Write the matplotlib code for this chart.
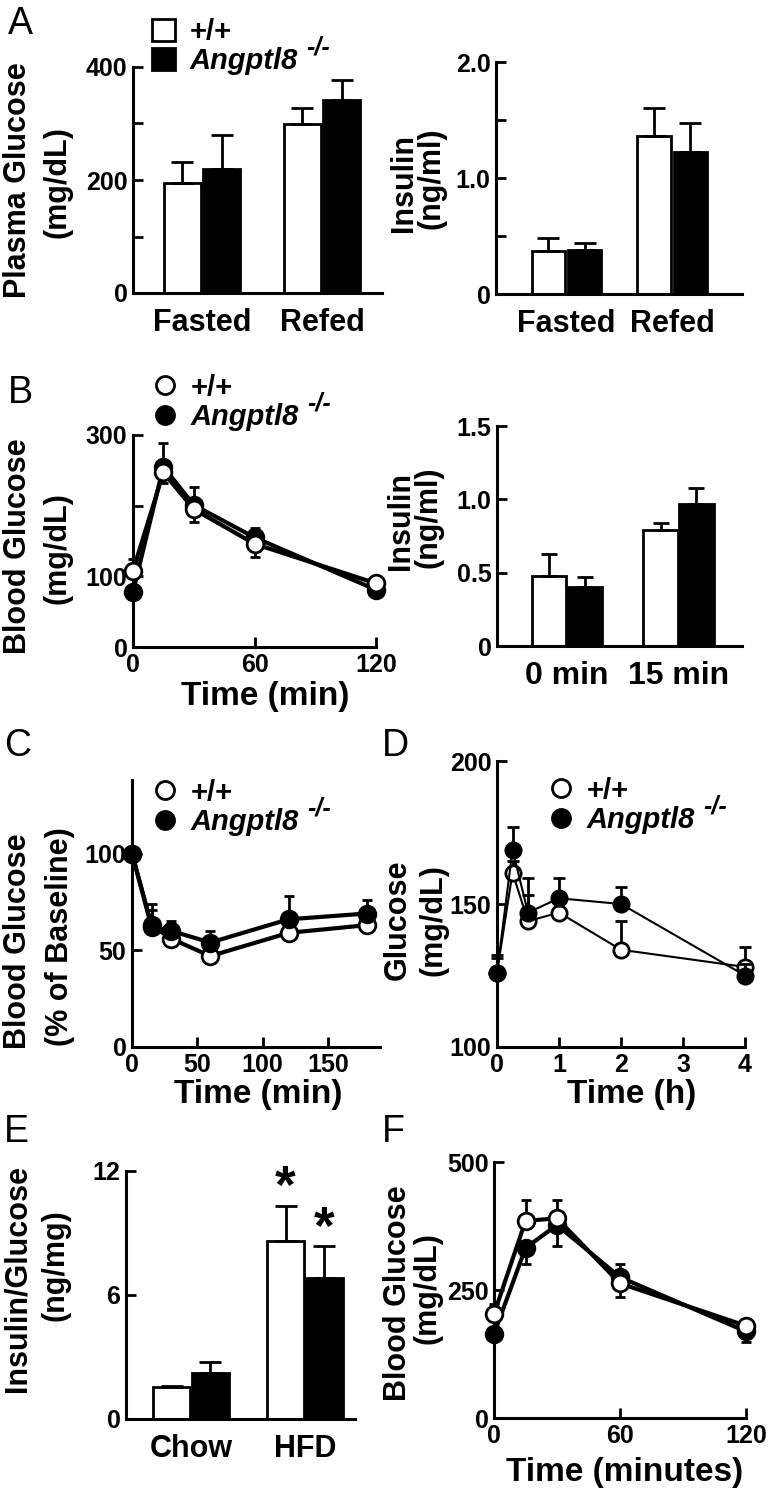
import numpy as np
import matplotlib
matplotlib.use("Agg")
import matplotlib.pyplot as plt
from matplotlib.patches import Patch
from matplotlib.lines import Line2D

plt.rcParams["font.family"] = ["Liberation Sans", "DejaVu Sans"]
plt.rcParams["font.weight"] = "bold"

W, H = 773, 1498

# A: plasma glucose / insulin, fasted vs refed
a_groups = ["Fasted", "Refed"]
a_glu_wt = [195, 299]
a_glu_wt_err = [37, 28]
a_glu_ko = [219, 342]
a_glu_ko_err = [61, 35]
a_ins_wt = [0.37, 1.36]
a_ins_wt_err = [0.11, 0.24]
a_ins_ko = [0.38, 1.22]
a_ins_ko_err = [0.06, 0.25]

# B: GTT and insulin at 0 / 15 min
b_time = [0, 15, 30, 60, 120]
b_wt = [108, 247, 195, 146, 90]
b_wt_sem = [40, 15, 18, 18, 3]
b_ko = [78, 255, 201, 155, 81]
b_ko_sem = [46, 33, 26, 14, 3]
b_groups = ["0 min", "15 min"]
b_ins_wt = [0.48, 0.79]
b_ins_wt_err = [0.15, 0.05]
b_ins_ko = [0.40, 0.97]
b_ins_ko_err = [0.07, 0.11]

# C: ITT (% of baseline)
c_time = [0, 15, 30, 60, 120, 180]
c_wt = [100, 63, 56, 47, 59, 63]
c_wt_sem = [0, 8, 4, 3, 3, 3]
c_ko = [100, 62, 60, 54, 66, 69]
c_ko_sem = [0, 12, 5, 6, 12, 7]

# D: glucose (h)
d_time = [0, 0.25, 0.5, 1, 2, 4]
d_wt = [126, 161, 144, 147, 134, 128]
d_wt_sem = [5, 4, 9, 5, 10, 7]
d_ko = [126, 169, 147, 152, 150, 125]
d_ko_sem = [6, 8, 12, 7, 6, 4]

# E: insulin/glucose chow vs HFD
e_groups = ["Chow", "HFD"]
e_wt = [1.53, 8.6]
e_wt_err = [0.05, 1.7]
e_ko = [2.22, 6.8]
e_ko_err = [0.53, 1.55]

# F: GTT on HFD
f_time = [0, 15, 30, 60, 120]
f_wt = [203, 385, 390, 263, 180]
f_wt_sem = [19, 40, 35, 38, 5]
f_ko = [164, 332, 377, 275, 169]
f_ko_sem = [10, 32, 42, 38, 21]

fig = plt.figure(figsize=(W / 100, H / 100), dpi=100)


def box(x0, x1, y0, y1):
    # pixel box -> figure fraction
    return [x0 / W, 1 - y1 / H, (x1 - x0) / W, (y1 - y0) / H]


def style(ax):
    for s in ["top", "right"]:
        ax.spines[s].set_visible(False)
    for s in ["left", "bottom"]:
        ax.spines[s].set_linewidth(2.2)
    ax.tick_params(direction="in", length=7, width=2, labelsize=18, pad=4)


def bars(ax, groups, wt, wt_err, ko, ko_err, w, off, cap, fs=22):
    x = np.arange(len(groups))
    ekw = dict(elinewidth=2, capsize=cap, capthick=2, ecolor="black")
    ax.bar(x - off, wt, w, color="white", edgecolor="black", linewidth=2,
           yerr=[np.zeros(len(wt)), wt_err], error_kw=ekw)
    ax.bar(x + off, ko, w, color="black", edgecolor="black", linewidth=2,
           yerr=[np.zeros(len(ko)), ko_err], error_kw=ekw)
    ax.set_xticks(x)
    ax.set_xticklabels(groups, fontsize=fs)
    ax.tick_params(axis="x", length=0, pad=11)


def series(ax, t, y, sem, face, up, lw, ms, cap, z):
    sem = np.array(sem)
    zero = np.zeros_like(sem)
    yerr = [zero, sem] if up else [sem, zero]
    c = ax.errorbar(t, y, yerr=yerr, fmt="-o", color="black", mfc=face,
                    mec="black", mew=2, ms=ms, lw=lw, elinewidth=2,
                    capsize=cap, capthick=2, zorder=z)
    for art in c.get_children():
        art.set_clip_on(False)


def legend(ax, kind, x_px, y_px):
    if kind == "bar":
        hs = [Patch(facecolor="white", edgecolor="black", linewidth=2),
              Patch(facecolor="black", edgecolor="black", linewidth=2)]
    else:
        hs = [Line2D([], [], marker="o", ls="none", mfc="white", mec="black", mew=2, ms=13),
              Line2D([], [], marker="o", ls="none", mfc="black", mec="black", mew=2, ms=13)]
    leg = ax.legend(hs, ["+/+", "Angptl8"], loc="upper left",
                    bbox_to_anchor=(x_px / W, 1 - y_px / H), bbox_transform=fig.transFigure,
                    frameon=False, prop=dict(size=21, weight="bold"),
                    handlelength=0.8, handleheight=0.8, handletextpad=0.5,
                    labelspacing=0.05, borderpad=0, borderaxespad=0)
    t = leg.get_texts()[1]
    t.set_fontstyle("italic")
    ax.annotate("-/-", xy=(1, 1.0), xycoords=t, xytext=(6, 0), textcoords="offset points",
                fontsize=18, fontstyle="italic", fontweight="bold", va="center", ha="left",
                zorder=10)


def ylab(x_px, y_px, s, fs=22):
    fig.text(x_px / W, 1 - y_px / H, s, rotation=90, ha="center", va="center", fontsize=fs)


def xlab(x_px, y_px, s, fs=24):
    fig.text(x_px / W, 1 - y_px / H, s, ha="center", va="center", fontsize=fs)


def letter(x_px, y_px, s):
    fig.text(x_px / W, 1 - y_px / H, s, ha="left", va="top", fontsize=27, fontweight="normal")


# ---- A left
ax = fig.add_axes(box(133, 382, 67, 293))
style(ax)
bars(ax, a_groups, a_glu_wt, a_glu_wt_err, a_glu_ko, a_glu_ko_err, 0.31, 0.165, 8)
ax.set_xlim(-0.575, 1.5)
ax.set_ylim(0, 400)
ax.set_yticks([0, 100, 200, 300, 400])
ax.set_yticklabels(["0", "", "200", "", "400"])
legend(ax, "bar", 152, 18)
ylab(18, 180, "Plasma Glucose")
ylab(57, 182, "(mg/dL)")
letter(8, 6, "A")

# ---- A right
ax = fig.add_axes(box(496, 742, 62, 294))
style(ax)
bars(ax, a_groups, a_ins_wt, a_ins_wt_err, a_ins_ko, a_ins_ko_err, 0.32, 0.17, 8)
ax.set_xlim(-0.665, 1.656)
ax.set_ylim(0, 2.0)
ax.set_yticks([0, 0.5, 1.0, 1.5, 2.0])
ax.set_yticklabels(["0", "", "1.0", "", "2.0"])
ylab(404, 183, "Insulin")
ylab(432, 178, "(ng/ml)")

# ---- B left
ax = fig.add_axes(box(133, 376, 435, 647))
style(ax)
series(ax, b_time, b_ko, b_ko_sem, "black", True, 3, 12, 3.5, 3)
series(ax, b_time, b_wt, b_wt_sem, "white", False, 3, 12, 3.5, 4)
ax.set_xlim(0, 120)
ax.set_ylim(0, 300)
ax.set_xticks([0, 60, 120])
ax.set_yticks([0, 100, 200, 300])
ax.set_yticklabels(["0", "100", "", "300"])
legend(ax, "line", 153, 374)
ylab(18, 546, "Blood Glucose")
ylab(57, 548, "(mg/dL)")
xlab(265, 697, "Time (min)")
letter(8, 375, "B")

# ---- B right
ax = fig.add_axes(box(497, 742, 426, 646))
style(ax)
bars(ax, b_groups, b_ins_wt, b_ins_wt_err, b_ins_ko, b_ins_ko_err, 0.31, 0.16, 6, fs=23)
ax.set_xlim(-0.628, 1.57)
ax.set_ylim(0, 1.5)
ax.set_yticks([0, 0.5, 1.0, 1.5])
ax.set_yticklabels(["0", "0.5", "1.0", "1.5"])
ylab(401, 521, "Insulin")
ylab(429, 517, "(ng/ml)")

# ---- C
ax = fig.add_axes(box(132, 380, 780, 1047))
style(ax)
series(ax, c_time, c_wt, c_wt_sem, "white", True, 3, 12, 3.5, 3)
series(ax, c_time, c_ko, c_ko_sem, "black", True, 3, 12, 3.5, 4)
ax.set_xlim(0, 190)
ax.set_ylim(0, 138)
ax.set_xticks([0, 50, 100, 150])
ax.set_yticks([0, 50, 100])
legend(ax, "line", 153, 779)
ylab(18, 941, "Blood Glucose")
ylab(60, 937, "(% of Baseline)")
xlab(258, 1095, "Time (min)")
letter(4, 728, "C")

# ---- D
ax = fig.add_axes(box(497, 745, 761, 1047))
style(ax)
series(ax, d_time, d_wt, d_wt_sem, "white", True, 1.5, 11, 4.5, 3)
series(ax, d_time, d_ko, d_ko_sem, "black", True, 1.5, 11, 4.5, 4)
ax.set_xlim(0, 4)
ax.set_ylim(100, 200)
ax.set_xticks([0, 1, 2, 3, 4])
ax.set_yticks([100, 150, 200])
legend(ax, "line", 549, 777)
ylab(398, 920, "Glucose")
ylab(433, 920, "(mg/dL)")
xlab(632, 1095, "Time (h)")
letter(382, 728, "D")

# ---- E
ax = fig.add_axes(box(126, 355, 1171, 1419))
style(ax)
bars(ax, e_groups, e_wt, e_wt_err, e_ko, e_ko_err, 0.33, 0.17, 8, fs=22)
ax.set_xlim(-0.57, 1.44)
ax.set_ylim(0, 12)
ax.set_yticks([0, 6, 12])
ax.text(1 - 0.17, e_wt[1] + e_wt_err[1] - 0.4, "*", ha="center", va="bottom", fontsize=38)
ax.text(1 + 0.17, e_ko[1] + e_ko_err[1] - 0.4, "*", ha="center", va="bottom", fontsize=38)
ylab(18, 1279, "Insulin/Glucose")
ylab(55, 1265, "(ng/mg)")
letter(4, 1114, "E")

# ---- F
ax = fig.add_axes(box(494, 746, 1162, 1418))
style(ax)
series(ax, f_time, f_ko, f_ko_sem, "black", False, 3, 12, 3.5, 3)
series(ax, f_time, f_wt, f_wt_sem, "white", True, 3, 12, 3.5, 4)
ax.set_xlim(0, 120)
ax.set_ylim(0, 500)
ax.set_xticks([0, 60, 120])
ax.set_yticks([0, 250, 500])
ylab(398, 1293, "Blood Glucose")
ylab(427, 1288, "(mg/dL)")
xlab(625, 1472, "Time (minutes)")
letter(382, 1114, "F")

fig.savefig("out.png", dpi=100)
